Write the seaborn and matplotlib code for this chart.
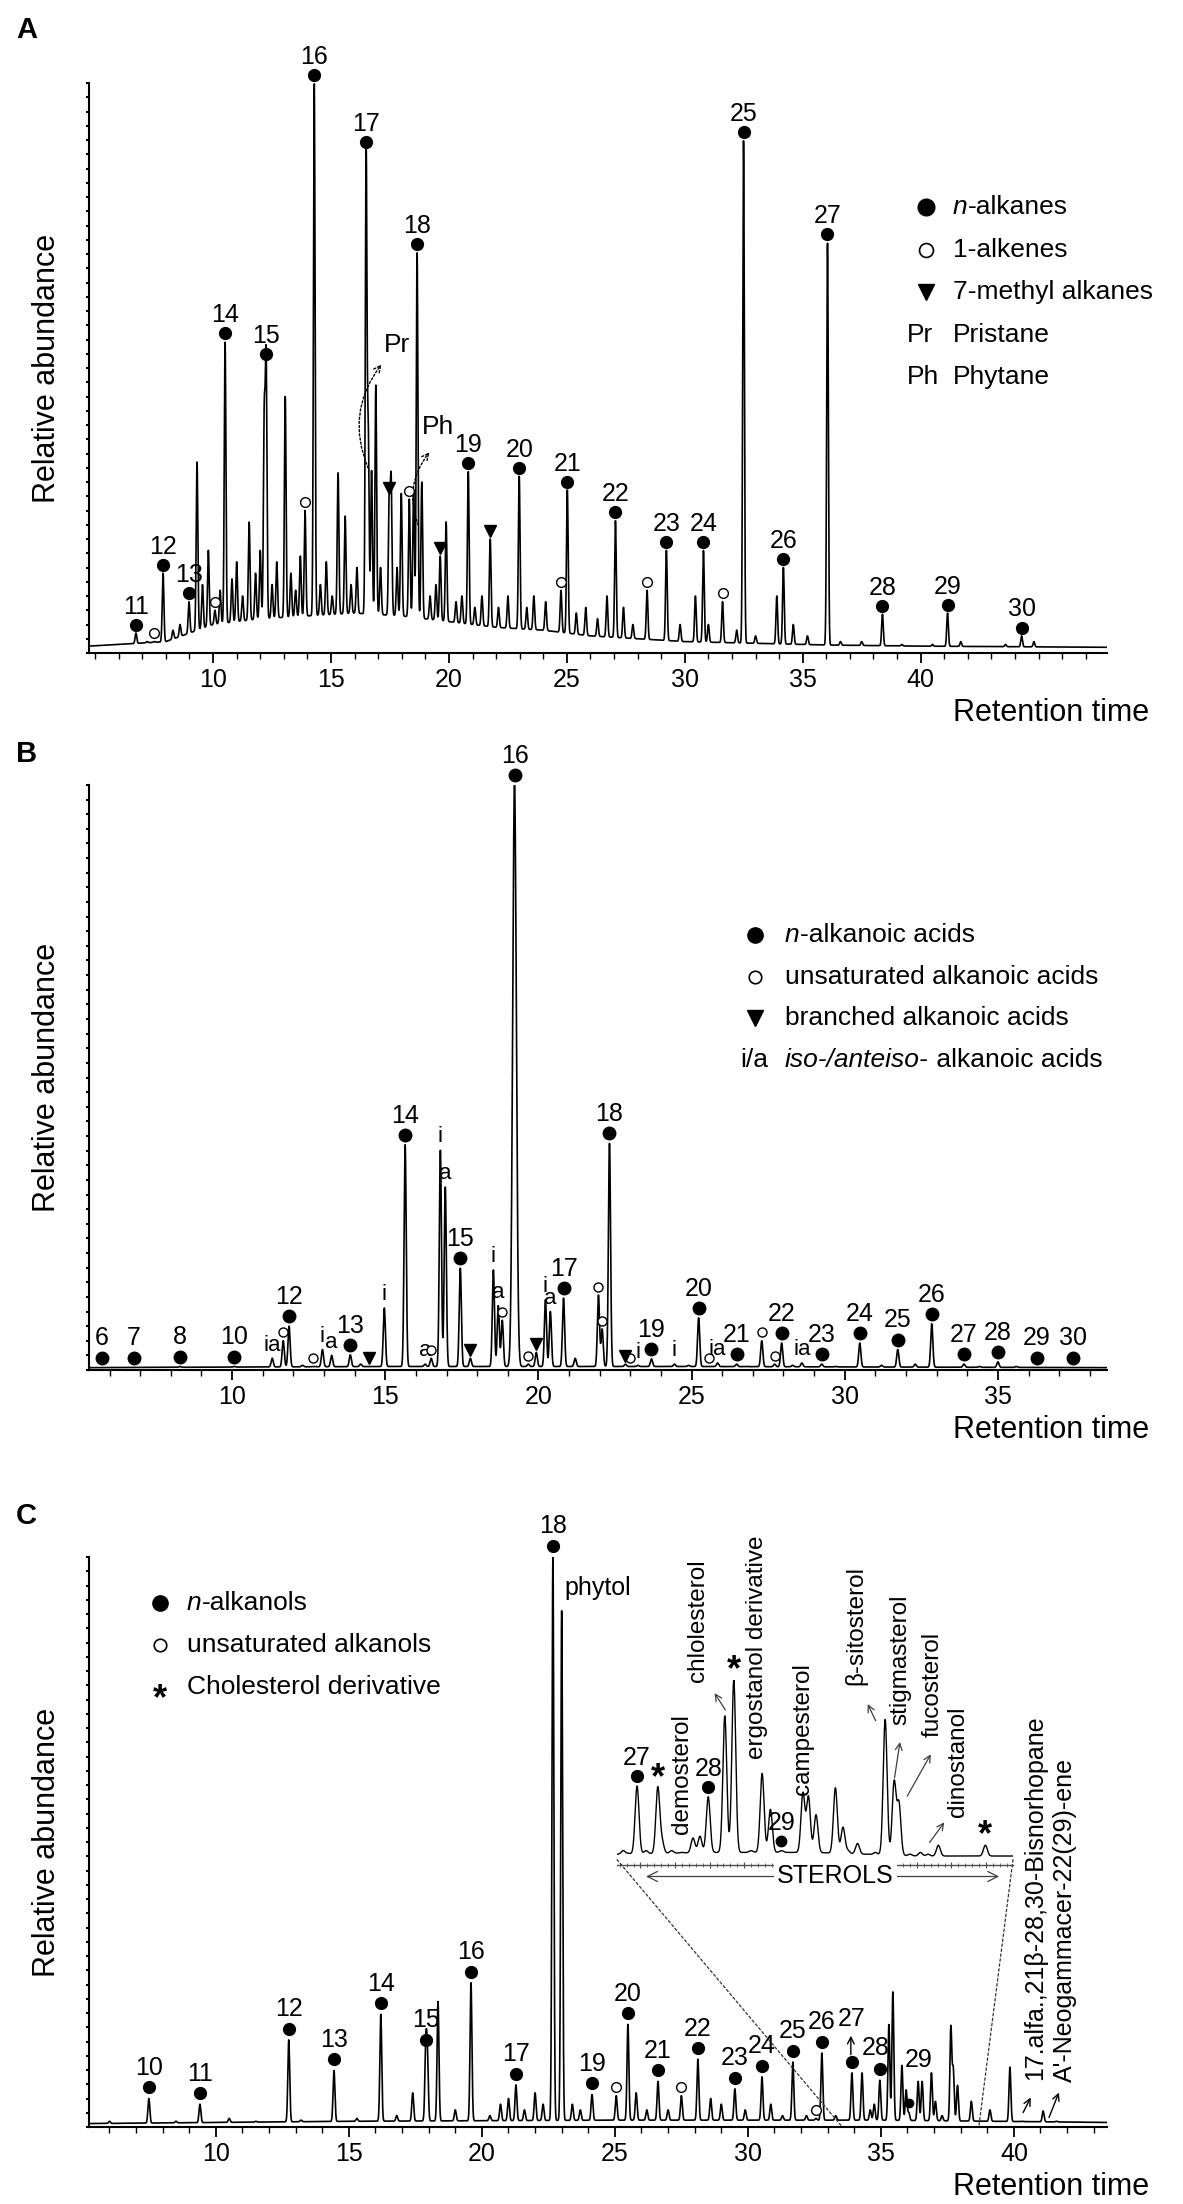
import numpy as np
import matplotlib
matplotlib.use('Agg')
import matplotlib.pyplot as plt
import matplotlib.transforms as mtrans
from matplotlib.ticker import MultipleLocator, FixedLocator, NullLocator
from matplotlib.patches import ConnectionPatch
import seaborn as sns

sns.set_theme(style='ticks', rc={'axes.edgecolor': 'black', 'xtick.color': 'black',
                                 'ytick.color': 'black', 'text.color': 'black',
                                 'axes.labelcolor': 'black'})
plt.rcParams['font.family'] = ['Liberation Sans', 'DejaVu Sans']

# ------------------------------------------------------------------ data
# Panel A : n-alkanes (label, retention time, relative height)
A_alk_lab = ['11', '12', '13', '14', '15', '16', '17', '18', '19', '20', '21', '22',
             '23', '24', '25', '26', '27', '28', '29', '30']
A_alk_t = [6.73, 7.88, 8.98, 10.51, 12.25, 14.29, 16.49, 18.65, 20.82, 22.98, 25.02,
           27.06, 29.22, 30.79, 32.49, 34.18, 36.05, 38.38, 41.14, 44.28]
A_alk_h = [0.035, 0.14, 0.09, 0.546, 0.51, 1.0, 0.882, 0.703, 0.318, 0.31, 0.286,
           0.232, 0.18, 0.18, 0.90, 0.15, 0.72, 0.068, 0.07, 0.03]
A_ene = [(7.5, 0.02), (10.08, 0.075), (13.9, 0.25), (18.32, 0.27), (24.75, 0.11),
         (28.4, 0.11), (31.6, 0.09)]
A_methyl = [(17.47, 0.274), (19.63, 0.17), (21.75, 0.2)]
A_minor = [(7.2, 0.02), (8.3, 0.04), (8.6, 0.05), (9.32, 0.335), (9.55, 0.12), (9.8, 0.18),
           (10.3, 0.11), (10.8, 0.13), (11.0, 0.16), (11.25, 0.1), (11.53, 0.23),
           (11.8, 0.14), (12.0, 0.18), (12.17, 0.41), (12.5, 0.12), (12.7, 0.16),
           (13.06, 0.45), (13.3, 0.14), (13.5, 0.11), (13.7, 0.17), (14.55, 0.12),
           (14.8, 0.16), (15.05, 0.1), (15.3, 0.316), (15.6, 0.24), (15.85, 0.12),
           (16.1, 0.15), (16.58, 0.38), (16.72, 0.32), (16.9, 0.47), (17.1, 0.15),
           (17.55, 0.30), (17.8, 0.15), (17.98, 0.28), (18.5, 0.286), (18.85, 0.30),
           (19.2, 0.1), (19.45, 0.12), (19.88, 0.23), (20.3, 0.09), (20.55, 0.1),
           (21.1, 0.08), (21.4, 0.1), (22.1, 0.08), (22.5, 0.1), (23.3, 0.08), (23.6, 0.1),
           (24.1, 0.09), (25.4, 0.07), (25.8, 0.08), (26.3, 0.06), (26.7, 0.1), (27.4, 0.08),
           (27.8, 0.05), (29.8, 0.05), (30.45, 0.1), (31.0, 0.05), (32.2, 0.04), (33.0, 0.03),
           (33.9, 0.1), (34.6, 0.05), (35.2, 0.03), (36.6, 0.02), (37.5, 0.02), (39.2, 0.015),
           (40.5, 0.015), (41.7, 0.02), (42.6, 0.01), (43.6, 0.015), (44.8, 0.02), (45.8, 0.01)]
A_base_t = [4.7, 6, 8, 9, 10, 12, 14, 16, 18, 20, 22, 24, 26, 28, 30, 33, 36, 40, 48]
A_base_h = [0.012, 0.015, 0.02, 0.035, 0.05, 0.06, 0.065, 0.07, 0.065, 0.055, 0.045,
            0.04, 0.03, 0.025, 0.02, 0.017, 0.014, 0.012, 0.01]
A_ticks = [10, 15, 20, 25, 30, 35, 40]

# Panel B : fatty acids
B_acid_lab = ['6', '7', '8', '10', '12', '13', '14', '15', '16', '17', '18', '19', '20',
              '21', '22', '23', '24', '25', '26', '27', '28', '29', '30']
B_acid_t = [5.75, 6.80, 8.30, 10.07, 11.86, 13.86, 15.65, 17.45, 19.22, 20.82, 22.32,
            23.69, 25.23, 26.47, 27.94, 29.25, 30.49, 31.73, 32.84, 33.89, 35.0, 36.27, 37.45]
B_acid_h = [0.004, 0.004, 0.006, 0.006, 0.075, 0.026, 0.385, 0.174, 1.0, 0.123, 0.388,
            0.019, 0.089, 0.01, 0.046, 0.01, 0.046, 0.035, 0.079, 0.01, 0.014, 0.004, 0.004]
B_ia_txt = ['ia', 'i', 'a', 'i', 'a', 'i', 'a', 'i', 'a', 'i', 'a', 'i', 'i', 'ia', 'ia']
B_ia_t = [11.31, 12.95, 13.25, 14.97, 16.30, 16.80, 16.96, 18.53, 18.69, 20.23, 20.39,
          23.25, 24.44, 25.85, 28.60]
B_ia_h = [0.02, 0.035, 0.025, 0.106, 0.01, 0.376, 0.313, 0.171, 0.11, 0.12, 0.10,
          0.008, 0.01, 0.012, 0.012]
B_uns = [(11.67, 0.05), (12.65, 0.006), (16.5, 0.02), (18.82, 0.085), (19.67, 0.01),
         (21.96, 0.128), (22.08, 0.07), (23.0, 0.006), (25.56, 0.006), (27.29, 0.05),
         (27.71, 0.01)]
B_branched = [(14.48, 0.006), (17.78, 0.02), (19.93, 0.03), (22.84, 0.01)]
B_minor = [(9.0, 0.005), (12.3, 0.008), (14.2, 0.01), (21.2, 0.02),
           (24.9, 0.008), (26.8, 0.006), (28.3, 0.008), (29.7, 0.006), (31.2, 0.008),
           (32.3, 0.01), (34.4, 0.006), (35.6, 0.006), (38.0, 0.004)]
B_base_t = [5.3, 15, 25, 38.6]
B_base_h = [0.004, 0.006, 0.006, 0.004]
B_ticks = [10, 15, 20, 25, 30, 35]

# Panel C : alkanols
C_ol_lab = ['10', '11', '12', '13', '14', '15', '16', '17', '18', '19', '20', '21', '22',
            '23', '24', '25', '26', '27', '28', '29']
C_ol_t = [7.48, 9.40, 12.74, 14.44, 16.20, 17.89, 19.59, 21.28, 22.67, 24.14, 25.49,
          26.62, 28.12, 29.51, 30.53, 31.69, 32.78, 33.91, 34.96, 36.05]
C_ol_h = [0.05, 0.04, 0.153, 0.099, 0.198, 0.134, 0.253, 0.074, 1.0, 0.057, 0.18, 0.08,
          0.119, 0.067, 0.088, 0.114, 0.13, 0.095, 0.082, 0.025]
C_uns = [(25.05, 0.055), (27.5, 0.055), (32.56, 0.015)]
C_phytol = (23.0, 0.907)
C_minor = [(6.0, 0.01), (8.5, 0.01), (10.5, 0.015), (11.5, 0.01), (13.2, 0.012),
           (15.3, 0.015), (16.8, 0.02), (17.4, 0.06), (17.95, 0.12), (18.35, 0.22),
           (19.0, 0.03), (20.3, 0.02), (20.7, 0.04), (21.0, 0.05), (21.6, 0.03), (22.0, 0.06),
           (22.3, 0.04), (23.4, 0.04), (23.7, 0.03), (25.8, 0.06), (26.2, 0.03), (27.0, 0.03),
           (28.6, 0.05), (29.0, 0.04), (29.9, 0.03), (30.86, 0.04), (31.3, 0.02), (32.2, 0.02),
           (33.3, 0.02), (34.29, 0.095), (34.6, 0.03), (34.75, 0.04), (35.3, 0.18),
           (35.45, 0.237), (35.79, 0.108), (35.95, 0.065), (36.4, 0.08), (36.55, 0.08),
           (36.9, 0.095), (37.05, 0.045), (37.3, 0.02), (37.63, 0.175), (37.72, 0.10),
           (37.88, 0.073), (38.4, 0.045), (39.1, 0.03), (39.85, 0.105), (40.3, 0.01),
           (41.1, 0.028), (41.6, 0.01)]
C_base_t = [5.2, 15, 25, 35, 43.5]
C_base_h = [0.006, 0.01, 0.012, 0.012, 0.008]
C_ticks = [10, 15, 20, 25, 30, 35, 40]

# Inset : sterol region
IN_t = [33.95, 34.25, 34.31, 34.76, 34.86, 34.98, 35.22, 35.35, 35.76, 35.88, 36.04, 36.35,
        36.43, 36.54, 36.82, 36.93, 37.14, 37.29, 37.54, 37.67, 37.74, 37.90, 38.16, 38.31, 38.99]
IN_h = [0.41, 0.40, 0.1, 0.12, 0.13, 0.35, 0.80, 1.0, 0.48, 0.28, 0.05, 0.37, 0.35, 0.25,
        0.40, 0.18, 0.09, 0.03, 0.78, 0.43, 0.31, 0.03, 0.03, 0.08, 0.08]
IN_minor = [(33.75, 0.05), (33.82, 0.035), (34.08, 0.05), (34.45, 0.05), (34.6, 0.04),
            (35.6, 0.05), (36.2, 0.04), (37.0, 0.05), (37.4, 0.04), (38.05, 0.04),
            (38.55, 0.02), (39.2, 0.02)]
IN_base_t = [33.66, 35.0, 36.5, 38.0, 39.39]
IN_base_h = [0.03, 0.04, 0.04, 0.02, 0.02]
IN_ol = [('27', 33.95, 0.41), ('28', 34.98, 0.35), ('29', 36.04, 0.05)]
IN_star = [(34.25, 0.40), (35.35, 1.0), (38.99, 0.08)]
IN_names = [('demosterol', 34.60, 0.14), ('chlolesterol', 34.83, 0.99),
            ('ergostanol derivative', 35.69, 0.56), ('campesterol', 36.35, 0.36),
            ('β-sitosterol', 37.11, 0.97), ('stigmasterol', 37.76, 0.75),
            ('fucosterol', 38.22, 0.68), ('dinostanol', 38.60, 0.24)]
IN_arrows = [((35.25, 0.82), (35.05, 0.94)), ((37.42, 0.76), (37.27, 0.88)),
             ((37.67, 0.44), (37.76, 0.67)), ((37.84, 0.34), (38.22, 0.60)),
             ((38.16, 0.083), (38.42, 0.22))]

# ------------------------------------------------------------------ helpers
W, H = 1183, 2204
fig = plt.figure(figsize=(W / 100, H / 100), dpi=100)


def add_ax(l, t, r, b):
    return fig.add_axes([l / W, 1 - b / H, (r - l) / W, (b - t) / H])


def off(ax, dy, dx=0):
    return ax.transData + mtrans.ScaledTranslation(dx / 72, dy / 72, fig.dpi_scale_trans)


def trace(tg, bt, bh, peaks, sig, sig_special=None):
    base = np.interp(tg, bt, bh)
    y = base.copy()
    for tp, hp in peaks:
        s = sig
        if sig_special and tp in sig_special:
            s = sig_special[tp]
        amp = max(hp - np.interp(tp, bt, bh), 0)
        y += amp * np.exp(-0.5 * ((tg - tp) / s) ** 2)
    return y


def style(ax, xlim, ticks):
    ax.set_xlim(*xlim)
    ax.set_ylim(0, 1.0)
    ax.set_facecolor('none')
    sns.despine(ax=ax)
    for s in ['left', 'bottom']:
        ax.spines[s].set_linewidth(1.5)
    ax.xaxis.set_major_locator(FixedLocator(ticks))
    ax.xaxis.set_minor_locator(MultipleLocator(1))
    ax.yaxis.set_major_locator(MultipleLocator(0.025))
    ax.tick_params(axis='x', which='major', length=7, width=1.3, direction='out',
                   labelsize=18, pad=4)
    ax.tick_params(axis='x', which='minor', length=4, width=1.0, direction='out')
    ax.tick_params(axis='y', which='major', length=2.5, width=1.5, direction='out',
                   labelleft=False)
    ax.set_ylabel('Relative abundance', fontsize=22)
    ax.yaxis.set_label_coords(-27 / 1018, 0.5)
    ax.set_xlabel('')


def line(ax, tg, y, lw=1.2):
    sns.lineplot(x=tg, y=y, ax=ax, color='black', linewidth=lw, estimator=None,
                 errorbar=None, sort=False)


def dots(ax, ts, hs, marker, ms, dy, filled=True, mew=1.0):
    ax.plot(ts, hs, linestyle='none', marker=marker, ms=ms,
            mfc='black' if filled else 'white', mec='black', mew=mew,
            transform=off(ax, dy), clip_on=False, zorder=5)


def labels(ax, ts, hs, labs, dy, size=18):
    for t, h, s in zip(ts, hs, labs):
        ax.text(t, h, s, transform=off(ax, dy), ha='center', va='baseline',
                fontsize=size, clip_on=False)


# ------------------------------------------------------------------ panel A
axA = add_ax(89, 83, 1107, 653)
xlA = (4.74, 47.9)
tgA = np.arange(xlA[0], xlA[1], 0.004)
pkA = list(zip(A_alk_t, A_alk_h)) + A_ene + A_methyl + A_minor
line(axA, tgA, trace(tgA, A_base_t, A_base_h, pkA, 0.035))
style(axA, xlA, A_ticks)
dots(axA, A_alk_t, A_alk_h, 'o', 8.5, 6)
labels(axA, A_alk_t, A_alk_h, A_alk_lab, 14)
dots(axA, [p[0] for p in A_ene], [p[1] for p in A_ene], 'o', 7, 6, filled=False)
dots(axA, [p[0] for p in A_methyl], [p[1] for p in A_methyl], 'v', 8.5, 6)
dash = dict(arrowstyle='->', linestyle=(0, (1.5, 1.5)), lw=1.0, color='black')
axA.annotate('', xy=(17.21, 0.51), xytext=(16.62, 0.32),
             arrowprops=dict(dash, connectionstyle='arc3,rad=-0.3'))
axA.annotate('', xy=(19.25, 0.356), xytext=(18.74, 0.22),
             arrowprops=dict(dash, connectionstyle='arc3,rad=-0.3'))
axA.text(17.26, 0.54, 'Pr', fontsize=19, ha='left', va='center')
axA.text(18.87, 0.396, 'Ph', fontsize=19, ha='left', va='center')

# ------------------------------------------------------------------ panel B
axB = add_ax(89, 785, 1107, 1370)
xlB = (5.33, 38.56)
tgB = np.arange(xlB[0], xlB[1], 0.004)
pkB = (list(zip(B_acid_t, B_acid_h)) + list(zip(B_ia_t, B_ia_h)) + B_uns + B_branched
       + B_minor)
line(axB, tgB, trace(tgB, B_base_t, B_base_h, pkB, 0.035, {19.22: 0.06}))
style(axB, xlB, B_ticks)
dots(axB, B_acid_t, B_acid_h, 'o', 9, 7)
labels(axB, B_acid_t, B_acid_h, B_acid_lab, 16)
for t, h, s in zip(B_ia_t, B_ia_h, B_ia_txt):
    axB.text(t, h, s, transform=off(axB, 2), ha='center', va='bottom', fontsize=16,
             clip_on=False)
dots(axB, [p[0] for p in B_uns], [p[1] for p in B_uns], 'o', 6.5, 6, filled=False)
dots(axB, [p[0] for p in B_branched], [p[1] for p in B_branched], 'v', 8, 6)

# ------------------------------------------------------------------ panel C
axC = add_ax(89, 1557, 1107, 2127)
xlC = (5.23, 43.5)
tgC = np.arange(xlC[0], xlC[1], 0.004)
pkC = list(zip(C_ol_t, C_ol_h)) + C_uns + [C_phytol] + C_minor
line(axC, tgC, trace(tgC, C_base_t, C_base_h, pkC, 0.035))
style(axC, xlC, C_ticks)
special = {'27', '28', '29'}
ts = [t for t, l in zip(C_ol_t, C_ol_lab) if l not in special]
hs = [h for h, l in zip(C_ol_h, C_ol_lab) if l not in special]
ls = [l for l in C_ol_lab if l not in special]
dots(axC, C_ol_t[:-1], C_ol_h[:-1], 'o', 8.5, 8)
dots(axC, [C_ol_t[-1]], [C_ol_h[-1]], 'o', 6, 7)
labels(axC, ts, hs, ls, 17)
axC.text(33.91, 0.19, '27', ha='center', va='center', fontsize=18)
axC.annotate('', xy=(33.87, 0.165), xytext=(33.87, 0.122),
             arrowprops=dict(arrowstyle='->', lw=1.0, color='black'))
axC.text(34.8, 0.139, '28', ha='center', va='center', fontsize=18)
axC.text(36.4, 0.118, '29', ha='center', va='center', fontsize=18)
dots(axC, [p[0] for p in C_uns], [p[1] for p in C_uns], 'o', 7, 6, filled=False)
axC.text(C_phytol[0] + 0.12, 0.946, 'phytol', fontsize=18, ha='left', va='center')
thin = dict(arrowstyle='->', lw=1.0, color='black')
axC.text(40.79, 0.082, '17.alfa.,21β-28,30-Bisnorhopane', rotation=90, ha='center',
         va='bottom', fontsize=18)
axC.text(41.92, 0.079, "A'-Neogammacer-22(29)-ene", rotation=90, ha='center',
         va='bottom', fontsize=18)
axC.annotate('', xy=(40.68, 0.056), xytext=(40.3, 0.021), arrowprops=thin)
axC.annotate('', xy=(41.73, 0.065), xytext=(41.28, 0.012), arrowprops=thin)

# ------------------------------------------------------------------ inset
axI = add_ax(617, 1680, 1013, 1865)
xlI = (33.66, 39.39)
tgI = np.arange(xlI[0], xlI[1], 0.002)
pkI = list(zip(IN_t, IN_h)) + IN_minor
line(axI, tgI, trace(tgI, IN_base_t, IN_base_h, pkI, 0.028), lw=1.0)
axI.set_xlim(*xlI)
axI.set_ylim(-0.03, 1.0)
axI.set_facecolor('none')
for s in ['left', 'top', 'right']:
    axI.spines[s].set_visible(False)
axI.spines['bottom'].set_linewidth(1.0)
axI.spines['bottom'].set_color('0.3')
axI.yaxis.set_major_locator(NullLocator())
axI.xaxis.set_major_locator(MultipleLocator(0.5))
axI.xaxis.set_minor_locator(MultipleLocator(0.1))
axI.tick_params(axis='x', which='major', length=4, width=0.8, direction='inout',
                labelbottom=False, color='0.3')
axI.tick_params(axis='x', which='minor', length=3, width=0.6, direction='inout',
                color='0.3')
axI.set_xlabel('')
axI.set_ylabel('')
for s, t, h in IN_ol:
    dots(axI, [t], [h], 'o', 8.5 if s != '29' else 7.5, 7)
    axI.text(t, h, s, transform=off(axI, 15), ha='center', va='baseline', fontsize=18,
             clip_on=False)
for t, h in IN_star:
    axI.text(t, h, '*', transform=off(axI, -6), ha='center', va='bottom', fontsize=26,
             fontweight='bold', clip_on=False)
for s, t, h in IN_names:
    axI.text(t, h, s, rotation=90, ha='center', va='bottom', fontsize=17.5, clip_on=False)
for (t0, h0), (t1, h1) in IN_arrows:
    axI.annotate('', xy=(t1, h1), xytext=(t0, h0),
                 arrowprops=dict(arrowstyle='->', lw=0.9, color='0.25'),
                 annotation_clip=False)
axI.annotate('', xy=(34.04, -0.094), xytext=(39.23, -0.094),
             arrowprops=dict(arrowstyle='<->', lw=0.9, color='0.25',
                             mutation_scale=18), annotation_clip=False)
axI.text(36.82, -0.094, 'STEROLS', ha='center', va='center', fontsize=18,
         bbox=dict(facecolor='white', edgecolor='none', pad=2), clip_on=False)
for tI, tC in [(xlI[0], 33.55), (xlI[1], 38.68)]:
    cp = ConnectionPatch(xyA=(tI, 0), coordsA=axI.transData, xyB=(tC, 0),
                         coordsB=axC.transData, linestyle=(0, (2, 2)), lw=0.9,
                         color='0.2')
    fig.add_artist(cp)

# ------------------------------------------------------------------ overlay texts
ax0 = fig.add_axes([0, 0, 1, 1])
ax0.set_xlim(0, W)
ax0.set_ylim(H, 0)
ax0.axis('off')
ax0.patch.set_visible(False)
R = fig.canvas.get_renderer()


def rich(x, y, parts, size=19):
    cur = x
    for s, st in parts:
        t = ax0.text(cur, y, s, fontsize=size, style=st, ha='left', va='center')
        cur += t.get_window_extent(renderer=R).width


for s, y in [('A', 30), ('B', 754), ('C', 1516)]:
    ax0.text(16, y, s, fontsize=21, fontweight='bold', ha='left', va='center')
for y in [653, 1370, 2127]:
    ax0.text(1149, y + 60, 'Retention time', fontsize=22, ha='right', va='center')

# legend A
ax0.plot([926], [207], 'o', ms=12, color='black')
ax0.plot([926], [250], 'o', ms=10, mfc='white', mec='black', mew=1.2)
ax0.plot([926], [292], 'v', ms=12, color='black')
rich(953, 207, [('n', 'italic'), ('-alkanes', 'normal')])
rich(953, 250, [('1-alkenes', 'normal')])
rich(953, 292, [('7-methyl alkanes', 'normal')])
ax0.text(907, 335, 'Pr', fontsize=19, ha='left', va='center')
ax0.text(907, 377, 'Ph', fontsize=19, ha='left', va='center')
rich(953, 335, [('Pristane', 'normal')])
rich(953, 377, [('Phytane', 'normal')])

# legend B
ax0.plot([755], [935], 'o', ms=11, color='black')
ax0.plot([755], [977], 'o', ms=9, mfc='white', mec='black', mew=1.2)
ax0.plot([755], [1018], 'v', ms=11, color='black')
rich(785, 935, [('n', 'italic'), ('-alkanoic acids', 'normal')])
rich(785, 977, [('unsaturated alkanoic acids', 'normal')])
rich(785, 1018, [('branched alkanoic acids', 'normal')])
ax0.text(740, 1060, 'i/a', fontsize=19, ha='left', va='center')
rich(785, 1060, [('iso-/anteiso-', 'italic'), (' alkanoic acids', 'normal')])

# legend C
ax0.plot([160], [1603], 'o', ms=11, color='black')
ax0.plot([160], [1645], 'o', ms=9, mfc='white', mec='black', mew=1.2)
ax0.text(160, 1700, '*', fontsize=26, fontweight='bold', ha='center', va='center')
rich(187, 1603, [('n', 'italic'), ('-alkanols', 'normal')])
rich(187, 1645, [('unsaturated alkanols', 'normal')])
rich(187, 1687, [('Cholesterol derivative', 'normal')])

fig.savefig('out.png', dpi=100)
